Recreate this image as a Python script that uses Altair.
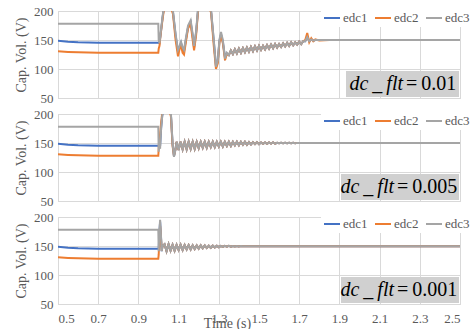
import altair as alt
import pandas as pd

series_names = ["edc1", "edc2", "edc3"]
series_colors = ["#4472C4", "#ED7D31", "#A5A5A5"]
x_ticks = [0.5, 0.7, 0.9, 1.1, 1.3, 1.5, 1.7, 1.9, 2.1, 2.3, 2.5]
y_ticks = [50, 100, 150, 200]
panel_labels = ["=\u20090.01", "=\u20090.005", "=\u20090.001"]

# pre-fault (shared by all panels)
pre_t = [0.5, 0.55, 0.6, 0.65, 0.7, 0.8, 0.9, 0.999]
pre_edc1 = [148.5, 147.0, 146.0, 145.5, 145.3, 145.2, 145.2, 145.2]
pre_edc2 = [130.5, 129.5, 128.8, 128.4, 128.2, 128.0, 128.0, 128.0]
pre_edc3 = [178, 178, 178, 178, 178, 178, 178, 178]

# panel 1 : dc_flt = 0.01
p1_tr_t = [1.001, 1.005, 1.010, 1.020, 1.030, 1.045, 1.060, 1.072, 1.085, 1.097, 1.105,
           1.112, 1.120, 1.127, 1.137, 1.147, 1.160, 1.170, 1.177, 1.187, 1.197, 1.210,
           1.230, 1.250, 1.262, 1.275, 1.286, 1.295, 1.303, 1.311, 1.320, 1.331, 1.340]
p1_tr_edc1 = [146, 145, 158, 188, 213, 224, 210, 198, 158, 130, 138, 145, 135, 131, 152, 172,
              181, 157, 137, 162, 203, 223, 227, 213, 198, 148, 105, 113, 148, 160, 147, 120, 127]
p1_tr_edc2 = [135, 140, 158, 185, 210, 222, 208, 195, 150, 122, 135, 140, 128, 125, 148, 170,
              178, 150, 132, 158, 200, 222, 226, 212, 196, 140, 100, 110, 145, 158, 145, 115, 126]
p1_tr_edc3 = [150, 145, 160, 190, 215, 225, 212, 200, 160, 133, 140, 147, 137, 133, 155, 175,
              184, 160, 140, 165, 205, 225, 228, 215, 200, 150, 104, 115, 150, 164, 150, 118, 128]
p1_rip_t = [1.35, 1.36, 1.37, 1.38, 1.39, 1.40, 1.41, 1.42, 1.43, 1.44, 1.45, 1.46, 1.47,
            1.48, 1.49, 1.50, 1.51, 1.52, 1.53, 1.54, 1.55, 1.56, 1.57, 1.58, 1.59, 1.60,
            1.61, 1.62, 1.63, 1.64, 1.65, 1.66, 1.67, 1.68, 1.69, 1.70, 1.71, 1.72]
p1_rip_v = [124, 132, 126, 134, 127, 135, 128, 136, 129, 137, 130, 138, 131, 139, 132, 140,
            133, 140, 134, 141, 135, 142, 136, 143, 137, 143, 138, 144, 139, 145, 140, 146,
            141, 146, 142, 147, 143, 148]
p1_end_t = [1.73, 1.74, 1.75, 1.76, 1.77, 1.78, 1.80, 1.85, 2.0, 2.5]
p1_end_edc1 = [148, 156, 148, 151, 149, 150, 150, 150, 150, 150]
p1_end_edc2 = [150, 162, 146, 153, 148, 151, 149, 150, 150, 150]
p1_end_edc3 = [148, 155, 148, 151, 149, 150, 150, 150, 150, 150]

# panel 2 : dc_flt = 0.005
p2_tr_t = [1.001, 1.004, 1.008, 1.013, 1.018, 1.025, 1.035, 1.050, 1.062, 1.070, 1.077, 1.085]
p2_tr_edc1 = [144, 150, 145, 175, 195, 214, 224, 217, 198, 148, 127, 140]
p2_tr_edc2 = [140, 160, 165, 185, 200, 218, 225, 215, 195, 145, 128, 140]
p2_tr_edc3 = [135, 152, 140, 175, 195, 215, 225, 218, 200, 150, 126, 140]
p2_rip_t = [1.09, 1.10, 1.11, 1.12, 1.13, 1.14, 1.15, 1.16, 1.17, 1.18, 1.19, 1.20, 1.21,
            1.22, 1.23, 1.24, 1.25, 1.26, 1.27, 1.28, 1.29, 1.30, 1.31, 1.32, 1.33, 1.34,
            1.35, 1.36, 1.37, 1.38, 1.39, 1.40, 1.41, 1.42, 1.43, 1.44, 1.45, 1.46, 1.47,
            1.48, 1.49, 1.50, 1.51, 1.52, 1.53, 1.54, 1.55, 1.56, 1.57, 1.58, 1.59, 1.60,
            1.61, 1.62, 1.63, 1.64, 1.65, 1.66, 1.67, 1.68, 1.69, 1.70]
p2_rip_v = [152, 138, 152, 139, 152, 139, 152, 140, 152, 140, 152, 141, 152, 142, 152, 142,
            152, 143, 152, 143, 152, 144, 152, 144, 152, 145, 152, 145, 152, 146, 152, 146,
            152, 147, 152, 147, 151.5, 147.5, 151.5, 148, 151.5, 148, 151, 148.5, 151, 148.5,
            151, 149, 151, 149, 150.5, 149.5, 150.5, 149.5, 150.5, 149.5, 150.5, 149.5,
            150.3, 149.7, 150.2, 149.8]
p2_end_t = [1.72, 2.5]
p2_end_v = [150, 150]

# panel 3 : dc_flt = 0.001
p3_tr_t = [1.001, 1.004, 1.008, 1.012, 1.016, 1.020]
p3_tr_edc1 = [145, 170, 192, 168, 141, 150]
p3_tr_edc2 = [135, 160, 185, 165, 142, 150]
p3_tr_edc3 = [141, 175, 195, 170, 141, 150]
p3_rip_t = [1.03, 1.04, 1.05, 1.06, 1.07, 1.08, 1.09, 1.10, 1.11, 1.12, 1.13, 1.14, 1.15,
            1.16, 1.17, 1.18, 1.19, 1.20, 1.21, 1.22, 1.23, 1.24, 1.25, 1.26, 1.27, 1.28,
            1.29, 1.30, 1.31, 1.32, 1.33, 1.34, 1.35, 1.36, 1.37, 1.38, 1.39, 1.40, 1.41,
            1.42, 1.43, 1.44]
p3_rip_v = [153, 141, 153, 142, 152, 142, 152, 143, 152, 143, 151.5, 144, 151.5, 144, 151,
            145, 151, 145.5, 151, 146, 151, 146.5, 150.5, 147, 150.5, 147.5, 150.5, 148,
            150.3, 148.5, 150.2, 148.8, 150.2, 149, 150, 149.2, 150, 149.3, 149.8, 149.4,
            149.7, 149.5]
p3_end_t = [1.45, 2.5]
p3_end_v = [149.5, 149.5]


def panel_df(parts):
    rows = []
    for k, name in enumerate(series_names):
        for ts, vals in parts:
            for t, v in zip(ts, vals[k]):
                rows.append({"t": t, "v": v, "series": name})
    return pd.DataFrame(rows)


pre = (pre_t, [pre_edc1, pre_edc2, pre_edc3])
df1 = panel_df([pre,
                (p1_tr_t, [p1_tr_edc1, p1_tr_edc2, p1_tr_edc3]),
                (p1_rip_t, [p1_rip_v, p1_rip_v, p1_rip_v]),
                (p1_end_t, [p1_end_edc1, p1_end_edc2, p1_end_edc3])])
df2 = panel_df([pre,
                (p2_tr_t, [p2_tr_edc1, p2_tr_edc2, p2_tr_edc3]),
                (p2_rip_t, [p2_rip_v, p2_rip_v, p2_rip_v]),
                (p2_end_t, [p2_end_v, p2_end_v, p2_end_v])])
df3 = panel_df([pre,
                (p3_tr_t, [p3_tr_edc1, p3_tr_edc2, p3_tr_edc3]),
                (p3_rip_t, [p3_rip_v, p3_rip_v, p3_rip_v]),
                (p3_end_t, [p3_end_v, p3_end_v, p3_end_v])])

FONT = "Liberation Serif, Times New Roman, serif"
GRID = "#d9d9d9"
LAB = "#595959"


def make_panel(df, label, show_x, box_left, split):
    if show_x:
        xaxis = alt.Axis(values=x_ticks, format=".1f", title="Time (s)",
                         labelFontSize=13, labelPadding=8,
                         titleFontSize=14, titleX=169, titleY=19,
                         titleBaseline="middle", titleAlign="center")
    else:
        xaxis = alt.Axis(values=x_ticks, title=None, labels=False)
    x = alt.X("t:Q", scale=alt.Scale(domain=[0.5, 2.5], nice=False, zero=False), axis=xaxis)
    y = alt.Y("v:Q", scale=alt.Scale(domain=[50, 200], nice=False, zero=False),
              axis=alt.Axis(values=y_ticks, title="Cap. Vol. (V)", labelFontSize=13,
                            labelPadding=5, titleFontSize=14, titlePadding=5,
                            minExtent=25, maxExtent=25))
    lines = alt.Chart(df).mark_line(strokeWidth=2, clip=True).encode(
        x=x, y=y,
        color=alt.Color("series:N", sort=series_names,
                        scale=alt.Scale(domain=series_names, range=series_colors),
                        legend=alt.Legend(orient="none", legendX=263, legendY=-4,
                                          direction="horizontal", title=None,
                                          symbolType="stroke", symbolStrokeWidth=2,
                                          symbolSize=256, labelFont=FONT, labelFontSize=13,
                                          labelColor=LAB, fillColor="white", padding=2,
                                          columnPadding=3, labelOffset=2)),
    )
    one = pd.DataFrame({"a": [0]})
    box = alt.Chart(one).mark_rect(color="#d0d0d0").encode(
        x=alt.value(box_left), x2=alt.value(401), y=alt.value(60), y2=alt.value(86))
    t1 = alt.Chart(one).mark_text(font=FONT, fontStyle="italic", fontSize=20, align="right",
                                  baseline="middle", color="black").encode(
        x=alt.value(split), y=alt.value(73), text=alt.value("dc\u2009_\u2009flt"))
    t2 = alt.Chart(one).mark_text(font=FONT, fontSize=20, align="left",
                                  baseline="middle", color="black").encode(
        x=alt.value(split + 3), y=alt.value(73), text=alt.value(label))
    return alt.layer(lines, box, t1, t2).properties(width=402, height=87)


c1 = make_panel(df1, panel_labels[0], False, 288, 345)
c2 = make_panel(df2, panel_labels[1], False, 283, 336)
c3 = make_panel(df3, panel_labels[2], True, 283, 336)

chart = alt.vconcat(c1, c2, c3, spacing=16, bounds="flush").resolve_scale(
    color="independent").properties(
    padding={"left": 13, "top": 4, "right": 0, "bottom": 0}
).configure_view(stroke=None).configure(
    background="white", font=FONT
).configure_axis(
    grid=True, gridColor=GRID, gridWidth=1, domainColor=GRID, domainWidth=1, ticks=False,
    labelFont=FONT, labelColor=LAB, titleFont=FONT, titleColor=LAB, titleFontWeight="normal"
)

chart.save("out.html", embed_options={"renderer": "svg", "actions": False})
